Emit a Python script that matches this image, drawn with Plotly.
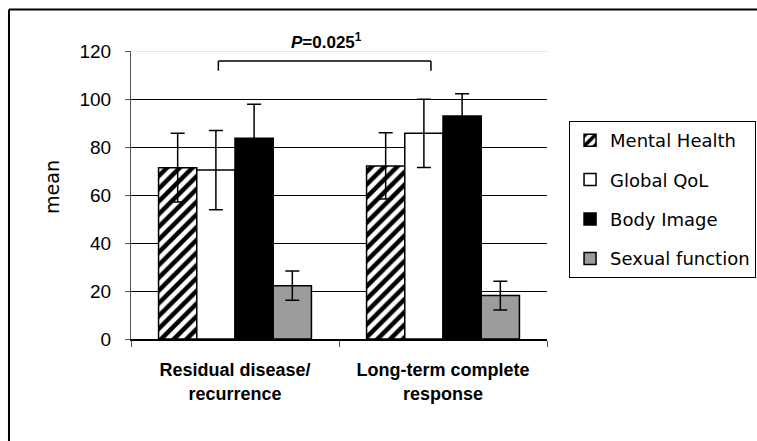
import plotly.graph_objects as go

categories = ["Residual disease/<br>recurrence", "Long-term complete<br>response"]
series_names = ["Mental Health", "Global QoL", "Body Image", "Sexual function"]
mental_health = [71.4, 72.1]
mental_health_err = [14.3, 13.8]
global_qol = [70.4, 85.7]
global_qol_err = [16.5, 14.2]
body_image = [83.6, 92.9]
body_image_err = [14.2, 9.3]
sexual_function = [22.2, 18.1]
sexual_function_err = [6.1, 6.0]
y_ticks = [0, 20, 40, 60, 80, 100, 120]

styles = [
    dict(color="white", pattern=dict(shape="/", fgcolor="black", bgcolor="white", size=9, solidity=0.5, fgopacity=1)),
    dict(color="white"),
    dict(color="black"),
    dict(color="#9c9c9c"),
]
values = [mental_health, global_qol, body_image, sexual_function]
errors = [mental_health_err, global_qol_err, body_image_err, sexual_function_err]

fig = go.Figure()
for i, (name, v, e, st) in enumerate(zip(series_names, values, errors, styles)):
    marker = dict(color=st["color"], line=dict(color="black", width=1.5))
    if "pattern" in st:
        marker["pattern"] = st["pattern"]
    fig.add_trace(go.Bar(
        x=categories, y=v, name=name, legendgroup=name,
        marker=marker,
        error_y=dict(type="data", array=e, visible=True, color="black", thickness=1.5, width=7),
    ))

fig.update_layout(
    width=757, height=441,
    margin=dict(l=131, r=210, t=51, b=102, autoexpand=False),
    paper_bgcolor="white", plot_bgcolor="white",
    barmode="group", bargap=0.265, bargroupgap=0,
    showlegend=True,
    legend=dict(
        x=1.053, y=0.757, xanchor="left", yanchor="top",
        bordercolor="black", borderwidth=1, bgcolor="white",
        font=dict(family="DejaVu Sans", size=18, color="black"),
        traceorder="grouped", tracegroupgap=13, itemwidth=30,
    ),
    font=dict(family="Arial, Liberation Sans", color="black"),
)
fig.update_yaxes(
    range=[0, 120], tickvals=y_ticks, showgrid=True, gridcolor="black", gridwidth=1,
    showline=True, linecolor="#555", linewidth=1, ticks="outside", ticklen=5, tickcolor="#555",
    tickfont=dict(size=19, family="Arial, Liberation Sans", color="black"),
    ticklabelstandoff=10, zeroline=False,
)
fig.update_xaxes(
    showline=True, linecolor="black", linewidth=1.5, ticks="outside", tickson="boundaries",
    ticklen=6, tickcolor="#555",
    tickfont=dict(size=18, family="Arial, Liberation Sans", color="black"),
    ticklabelstandoff=14,
    tickprefix="<b>", ticksuffix="</b>",
)

# y-axis title
fig.add_annotation(x=-0.19, y=0.528, xref="paper", yref="paper", showarrow=False,
                   text="mean", textangle=-90, xanchor="center", yanchor="middle",
                   font=dict(size=19, family="DejaVu Sans", color="black"))

# bracket for significance
bx0, bx1, by_top, by_bot = -0.08, 0.942, 115.8, 111.8
fig.add_shape(type="line", xref="x", yref="y", x0=bx0, x1=bx1, y0=by_top, y1=by_top, line=dict(color="black", width=1.5))
fig.add_shape(type="line", xref="x", yref="y", x0=bx0, x1=bx0, y0=by_bot, y1=by_top, line=dict(color="black", width=1.5))
fig.add_shape(type="line", xref="x", yref="y", x0=bx1, x1=bx1, y0=by_bot, y1=by_top, line=dict(color="black", width=1.5))
fig.add_annotation(x=0.44, y=1.035, xref="x", yref="paper", showarrow=False,
                   xanchor="center", yanchor="middle",
                   text="<b><i>P</i>=0.025<sup>1</sup></b>",
                   font=dict(size=17, family="Arial, Liberation Sans", color="black"))
# lighter top grid line
fig.add_shape(type="line", xref="paper", yref="y", x0=0, x1=1, y0=120, y1=120, line=dict(color="#cccccc", width=1))
# outer frame (top and left edges visible)
fig.add_shape(type="line", xref="paper", yref="paper", x0=-0.2933, x1=1.6, y0=1.144, y1=1.144, line=dict(color="black", width=2))
fig.add_shape(type="line", xref="paper", yref="paper", x0=-0.2933, x1=-0.2933, y0=-0.5, y1=1.144, line=dict(color="black", width=2))

fig.write_html("out.html")
